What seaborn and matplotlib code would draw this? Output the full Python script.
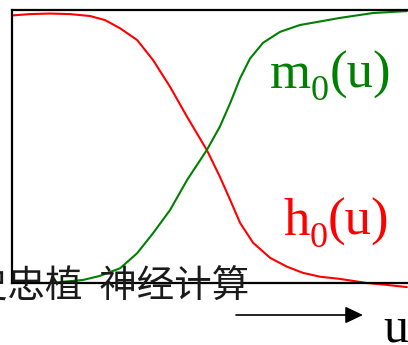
import numpy as np
import pandas as pd
import matplotlib
matplotlib.use("Agg")
import matplotlib.pyplot as plt
import seaborn as sns

# Steady-state gating curves versus membrane potential u (arbitrary units)
u_h = [0.0, 4.5, 9.6, 14.6, 19.7, 23.5, 27.3, 31.6, 35.6, 39.9, 44.2, 49.2, 52.5,
       55.1, 57.6, 60.9, 65.2, 69.4, 73.5, 77.8, 82.8, 89.6, 94.7, 99.7]
h0 = [0.980, 0.985, 0.987, 0.985, 0.978, 0.963, 0.933, 0.890, 0.817, 0.719, 0.609,
      0.487, 0.389, 0.304, 0.220, 0.147, 0.092, 0.060, 0.037, 0.023, 0.015, 0.000,
      -0.007, -0.015]

u_m = [0.25, 9.6, 17.9, 22.2, 27.3, 31.6, 35.6, 39.9, 44.2, 49.2, 52.5, 55.1, 57.6,
       60.1, 63.4, 67.7, 72.7, 77.8, 82.8, 91.2, 99.7]
m0 = [0.000, 0.000, 0.011, 0.026, 0.054, 0.109, 0.182, 0.267, 0.377, 0.487, 0.573,
      0.659, 0.750, 0.822, 0.880, 0.920, 0.945, 0.958, 0.971, 0.989, 0.996]

series_names = ["h0", "m0"]
series_colors = ["#ff0000", "#008000"]

df = pd.concat([
    pd.DataFrame({"u": u_h, "value": h0, "gate": series_names[0]}),
    pd.DataFrame({"u": u_m, "value": m0, "gate": series_names[1]}),
], ignore_index=True)

sns.set_style("white")

W, H = 408, 345
fig = plt.figure(figsize=(W / 100, H / 100), dpi=100)
ax = fig.add_axes([12 / W, (H - 283) / H, 408 / W, 273 / H])

sns.lineplot(data=df, x="u", y="value", hue="gate", palette=series_colors,
             hue_order=series_names, sort=False, estimator=None, linewidth=1.5,
             legend=False, ax=ax)
for line in ax.lines:
    line.set_clip_on(False)
    line.set_solid_joinstyle("round")

ax.set_xlim(0, 408 / 396 * 100)
ax.set_ylim(0, 1)
ax.set_xticks([])
ax.set_yticks([])
ax.set_xlabel("")
ax.set_ylabel("")
for side in ["top", "left", "bottom"]:
    ax.spines[side].set_color("black")
    ax.spines[side].set_linewidth(1.6)
ax.spines["right"].set_visible(False)


def fx(px):
    return px / W


def fy(py):
    return 1 - py / H


renderer = fig.canvas.get_renderer()
SERIF = "Liberation Serif"


def sub_label(x_px, base_px, main, sub, rest, color):
    """Write main + subscript + rest as consecutive serif texts."""
    t = fig.text(fx(x_px), fy(base_px), main, color=color, fontsize=38,
                 family=SERIF, ha="left", va="baseline")
    x = t.get_window_extent(renderer).x1
    t = fig.text(x / W, fy(base_px + 12), sub, color=color, fontsize=26,
                 family=SERIF, ha="left", va="baseline")
    x = t.get_window_extent(renderer).x1
    fig.text(x / W, fy(base_px), rest, color=color, fontsize=38,
             family=SERIF, ha="left", va="baseline")


# curve labels
sub_label(270, 88, "m", "0", "(u)", "#008000")
sub_label(283, 235, "h", "0", "(u)", "#ff0000")

# direction of increasing u
ax.annotate("", xy=(fx(363), fy(315)), xytext=(fx(236), fy(315)),
            xycoords="figure fraction", textcoords="figure fraction",
            arrowprops=dict(arrowstyle="-|>,head_length=0.4,head_width=0.19",
                            mutation_scale=27, color="black", lw=1.2,
                            shrinkA=0, shrinkB=0))
fig.text(fx(383), fy(341), "u", fontsize=36, family=SERIF,
         ha="left", va="baseline", color="black")

# source caption
fig.text(fx(-30), fy(298), "史忠植  神经计算", fontsize=27, color="#1a1a1a",
         family=["Noto Sans CJK SC", "DejaVu Sans"], fontweight="light",
         ha="left", va="baseline")

fig.savefig("out.png", dpi=100)
